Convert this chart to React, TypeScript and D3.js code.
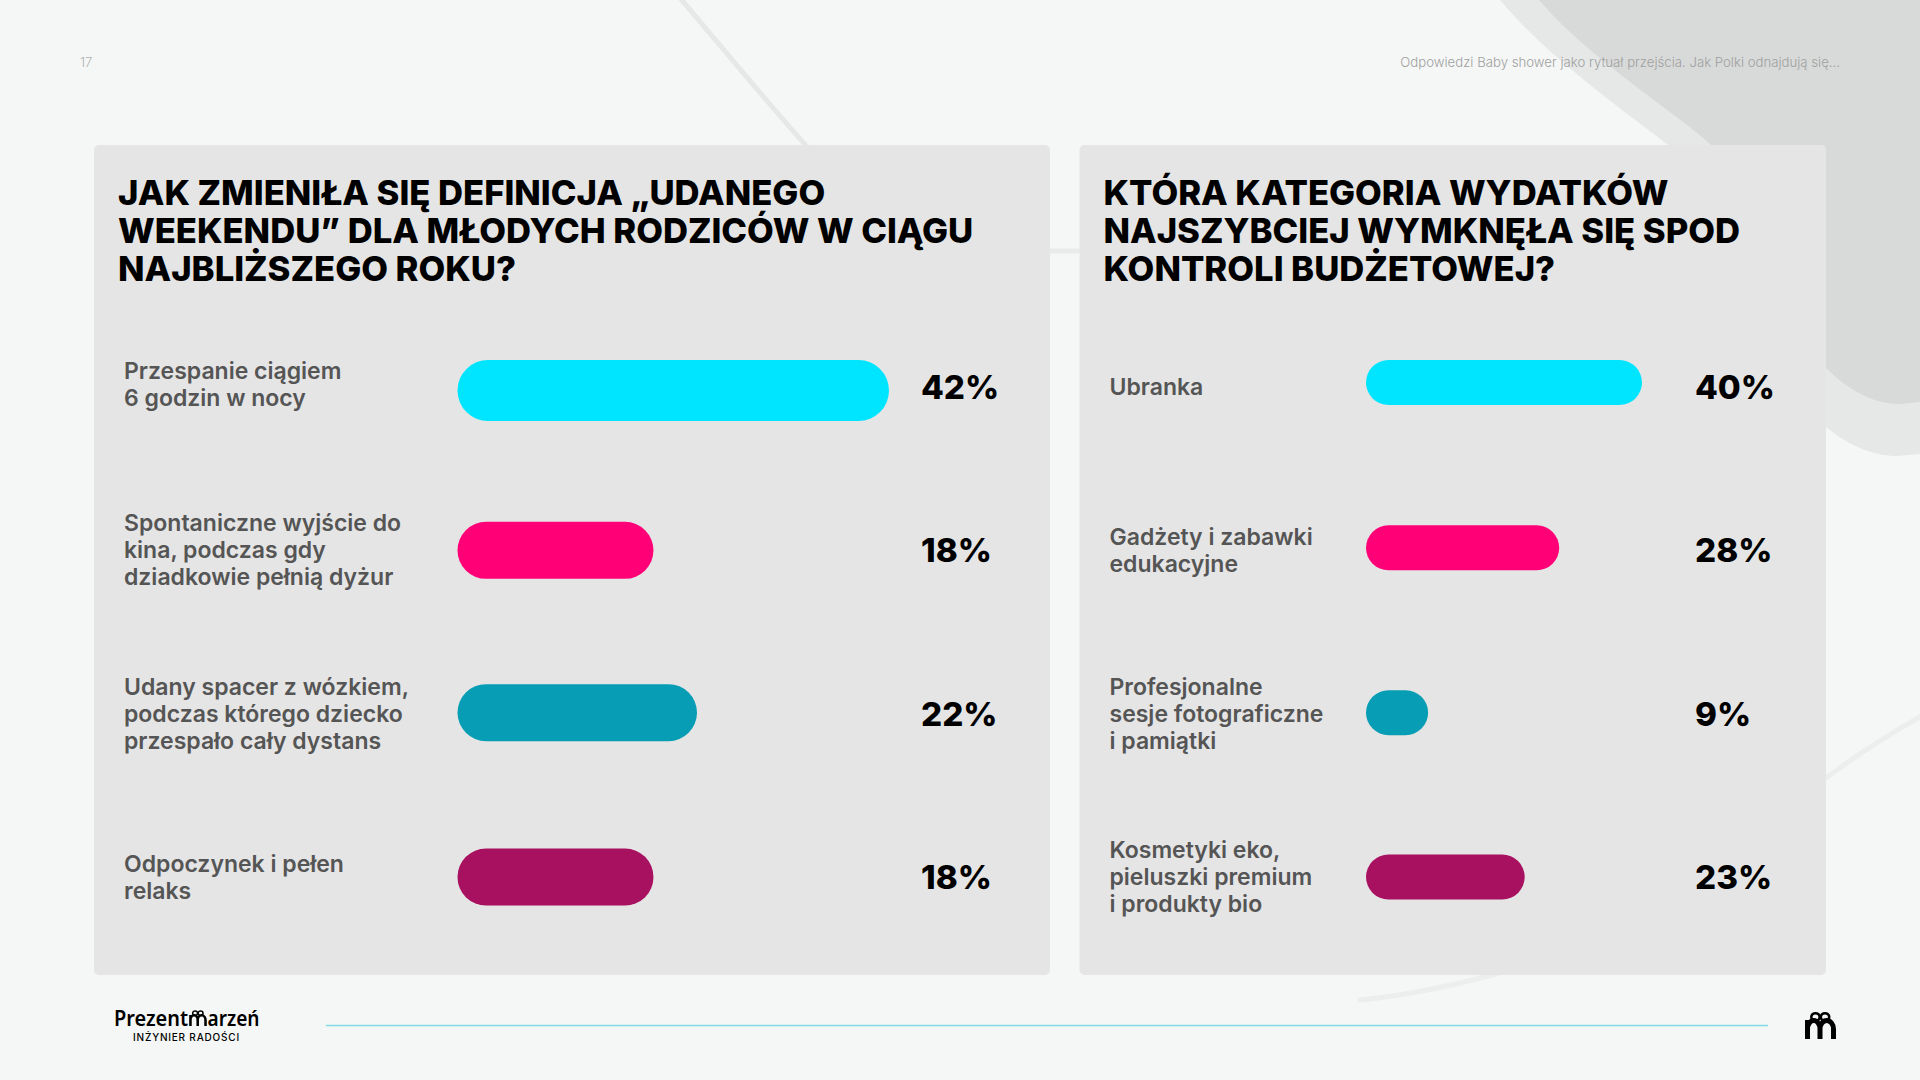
import React from 'react';
import * as d3 from 'd3';

const FONT = 'Inter, "Noto Sans", sans-serif';

const leftTitle = ['JAK ZMIENIŁA SIĘ DEFINICJA „UDANEGO', 'WEEKENDU” DLA MŁODYCH RODZICÓW W CIĄGU', 'NAJBLIŻSZEGO ROKU?'];
const leftLabels = [
  ['Przespanie ciągiem', '6 godzin w nocy'],
  ['Spontaniczne wyjście do', 'kina, podczas gdy', 'dziadkowie pełnią dyżur'],
  ['Udany spacer z wózkiem,', 'podczas którego dziecko', 'przespało cały dystans'],
  ['Odpoczynek i pełen', 'relaks'],
];
const leftValues = [42, 18, 22, 18];

const rightTitle = ['KTÓRA KATEGORIA WYDATKÓW', 'NAJSZYBCIEJ WYMKNĘŁA SIĘ SPOD', 'KONTROLI BUDŻETOWEJ?'];
const rightLabels = [
  ['Ubranka'],
  ['Gadżety i zabawki', 'edukacyjne'],
  ['Profesjonalne', 'sesje fotograficzne', 'i pamiątki'],
  ['Kosmetyki eko,', 'pieluszki premium', 'i produkty bio'],
];
const rightValues = [40, 28, 9, 23];

const barColors = ['#00e5ff', '#ff0077', '#069db5', '#a81060'];

const GiftM = ({ x, y, k = 1, sw = 5 }: { x: number; y: number; k?: number; sw?: number }) => (
  <g transform={`translate(${x},${y}) scale(${k})`} fill="none" stroke="#000">
    <path strokeWidth={sw} d="M2.5 27V8M2.5 17A6.25 8.5 0 0 1 15 17V27M15 17A6.75 8.5 0 0 1 28.5 17V27" />
    <ellipse cx={10.5} cy={5} rx={4.2} ry={3.8} strokeWidth={2.6} />
    <ellipse cx={20} cy={5} rx={4.2} ry={3.8} strokeWidth={2.6} />
  </g>
);

type PanelProps = {
  x: number;
  width: number;
  title: string[];
  labels: string[][];
  values: number[];
  barX: number;
  xDomain: number[];
  xRange: number[];
  pctX: number;
  barHeight: number;
  firstBarHeight: number;
  barNudge: number[];
  firstLabelNudge: number;
};

const Panel = ({ x, width, title, labels, values, barX, xDomain, xRange, pctX, barHeight, firstBarHeight, barNudge, firstLabelNudge }: PanelProps) => {
  const rows = labels.map((_, i) => String(i));
  const y = d3.scalePoint().domain(rows).range([387, 877]);
  const w = d3.scaleLinear().domain(xDomain).range(xRange);
  return (
    <g>
      <rect x={x} y={145} width={width} height={830} rx={5} fill="#e5e5e5" />
      {title.map((t, i) => (
        <text key={t} x={x + 24} y={205 + i * 38} fontSize={34.65} fontWeight={800} fill="#000">
          {t}
        </text>
      ))}
      {labels.map((lines, i) => {
        const cy = y(String(i)) as number;
        const h = i === 0 ? firstBarHeight : barHeight;
        const by = cy + barNudge[i] - h / 2;
        const ly = cy + 8 + (i === 0 ? firstLabelNudge : 0);
        return (
          <g key={i}>
            {lines.map((l, j) => (
              <text key={l} x={x + 30} y={ly + (j - (lines.length - 1) / 2) * 27} fontSize={23} fontWeight={600} fill="#555555">
                {l}
              </text>
            ))}
            <rect x={barX} y={by} width={w(values[i])} height={h} rx={Math.min(h / 2, w(values[i]) / 2)} fill={barColors[i]} />
            <text x={pctX} y={cy + 12} fontSize={33.2} fontWeight={800} fill="#000">
              {values[i]}%
            </text>
          </g>
        );
      })}
    </g>
  );
};

export default function App() {
  return (
    <svg width={1920} height={1080} viewBox="0 0 1920 1080" style={{ position: 'absolute', left: 0, top: 0 }} fontFamily={FONT}>
      <rect width={1920} height={1080} fill="#f5f7f6" />

      {/* tlo */}
      <path d="M1500 0C1550 60 1630 115 1668 145C1730 210 1770 375 1826 427C1850 447 1875 456 1897 456L1920 454V0Z" fill="#e6e8e7" />
      <path d="M1539 0C1590 60 1680 115 1711 145C1760 200 1790 330 1826 368C1850 392 1875 404 1900 404L1920 402V0Z" fill="#d8dad9" />
      <g fill="none" strokeWidth={5} strokeLinecap="round">
        <path d="M680 -2C720 45 765 100 810 150" stroke="#e6e8e7" />
        <path d="M1040 251H1090" stroke="#e9ebea" />
        <path d="M1800 798Q1860 750 1925 714" stroke="#eceeed" />
        <path d="M1360 1000Q1430 993 1510 970" stroke="#eceeed" />
      </g>

      <text x={80} y={67} fontSize={13} fontWeight={300} fill="#b0b0b0">17</text>
      <text x={1840} y={67} fontSize={13.2} fontWeight={300} textAnchor="end" fill="#a0a0a0">
        Odpowiedzi Baby shower jako rytuał przejścia. Jak Polki odnajdują się...
      </text>

      <Panel
        x={94}
        width={956}
        title={leftTitle}
        labels={leftLabels}
        values={leftValues}
        barX={457.5}
        xDomain={[0, 22, 42]}
        xRange={[0, 239.5, 431.5]}
        pctX={921}
        barHeight={57}
        firstBarHeight={61}
        barNudge={[3.5, 0, -1, 0]}
        firstLabelNudge={-2.5}
      />
      <Panel
        x={1079.5}
        width={746.5}
        title={rightTitle}
        labels={rightLabels}
        values={rightValues}
        barX={1366}
        xDomain={[0, 40]}
        xRange={[0, 276]}
        pctX={1695}
        barHeight={45}
        firstBarHeight={45}
        barNudge={[-4.5, -2.5, -1, 0]}
        firstLabelNudge={0}
      />

      {/* stopka */}
      <g fontFamily='"Noto Sans", sans-serif' fontSize={21} fontWeight={600} fill="#000">
        <text x={114} y={1026} textLength={74} lengthAdjust="spacingAndGlyphs">Prezent</text>
        <text x={207.5} y={1026} textLength={52} lengthAdjust="spacingAndGlyphs">arzeń</text>
      </g>
      <GiftM x={189} y={1010.3} k={0.58} sw={4.4} />
      <text x={186.5} y={1041} fontSize={10} fontWeight={500} letterSpacing={0.8} textAnchor="middle" fill="#000">INŻYNIER RADOŚCI</text>
      <line x1={326} x2={1768} y1={1025.5} y2={1025.5} stroke="#7fdbe6" strokeWidth={1.4} />
      <GiftM x={1805} y={1012} />
    </svg>
  );
}
